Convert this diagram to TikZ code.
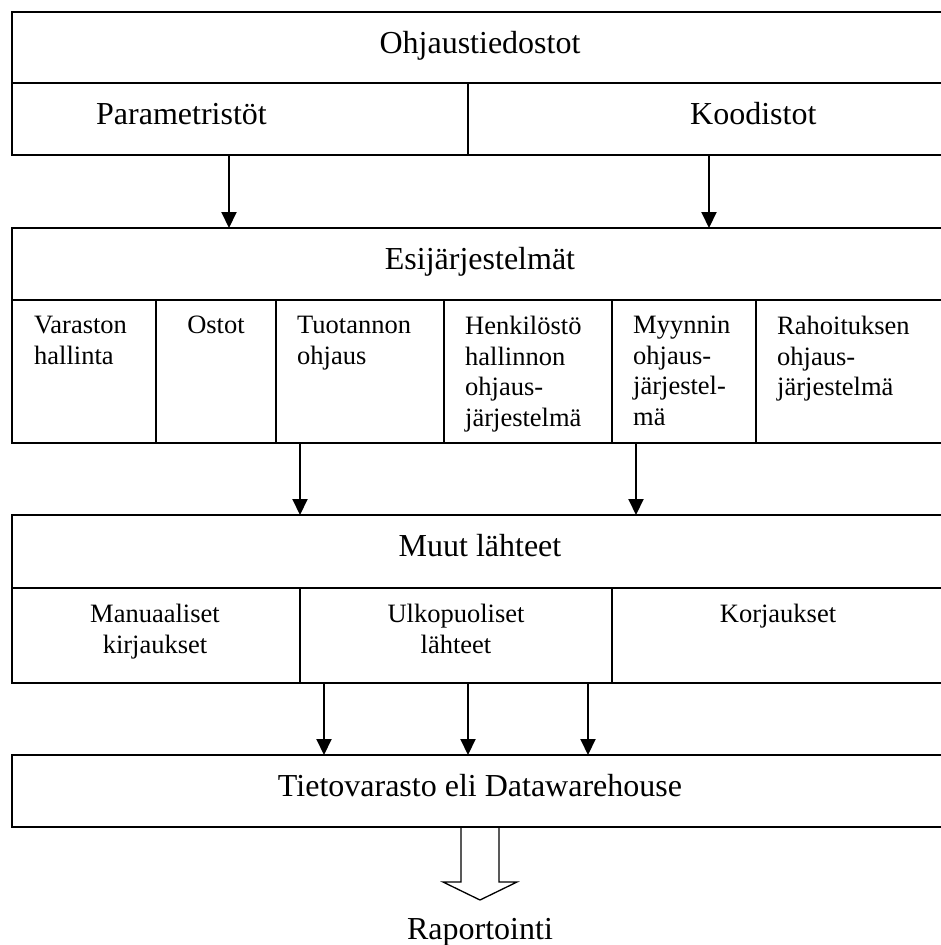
\documentclass[tikz,border=0pt]{standalone}
\usepackage{fontspec}
\setmainfont{Liberation Serif}
\usetikzlibrary{arrows.meta}

\begin{document}
\begin{tikzpicture}[x=1pt,y=-1pt,
  frame/.style={draw=black, line width=2pt},
  divider/.style={draw=black, line width=1.5pt},
  flow/.style={draw=black, line width=2pt, -{Triangle[length=16pt,width=15pt]}},
  bigtxt/.style={inner sep=0pt, font=\fontsize{32}{38}\selectfont},
  smalltxt/.style={inner sep=0pt, font=\fontsize{26.5}{30.5}\selectfont}]
\useasboundingbox (0,0) rectangle (941,945);
\clip (0,0) rectangle (941,945);

% ---- control files ----
\coordinate (ctrlNW) at (12,12);
\coordinate (ctrlSE) at (956,155);
\draw[frame] (ctrlNW) rectangle (ctrlSE);
\coordinate (ctrlSep) at (12,83);
\draw[frame] (ctrlSep) -- (ctrlSep -| ctrlSE);
\coordinate (ctrlDiv) at (468,83);
\draw[divider] (ctrlDiv) -- (ctrlDiv |- ctrlSE);
\node[bigtxt, anchor=base] (ctrl) at (480,53) {Ohjaustiedostot};
\node[bigtxt, anchor=base west] (param) at (96,124) {Parametristöt};
\node[bigtxt, anchor=base west] (codes) at (690,124) {Koodistot};

% ---- source systems ----
\coordinate (srcNW) at (12,228);
\coordinate (srcSE) at (956,443);
\draw[frame] (srcNW) rectangle (srcSE);
\coordinate (srcSep) at (12,300);
\draw[frame] (srcSep) -- (srcSep -| srcSE);
\foreach \x in {156,276,444,612,756}
  \draw[divider] (\x,300) -- (\x,443);
\node[bigtxt, anchor=base] (src) at (480,269) {Esijärjestelmät};
\node[smalltxt, anchor=north west, align=left] (stock) at (34,316) {Varaston\\hallinta};
\node[smalltxt, anchor=north, align=center] (buy) at (216,316) {Ostot};
\node[smalltxt, anchor=north west, align=left] (prod) at (297,316) {Tuotannon\\ohjaus};
\node[smalltxt, anchor=north west, align=left] (hr) at (465,316) {Henkilöstö\\hallinnon\\ohjaus-\\järjestelmä};
\node[smalltxt, anchor=north west, align=left] (sales) at (633,316) {Myynnin\\ohjaus-\\järjestel-\\mä};
\node[smalltxt, anchor=north west, align=left] (fin) at (777,316) {Rahoituksen\\ohjaus-\\järjestelmä};

% ---- other sources ----
\coordinate (othNW) at (12,515);
\coordinate (othSE) at (956,683);
\draw[frame] (othNW) rectangle (othSE);
\coordinate (othSep) at (12,588);
\draw[frame] (othSep) -- (othSep -| othSE);
\foreach \x in {300,612}
  \draw[divider] (\x,588) -- (\x,683);
\node[bigtxt, anchor=base] (oth) at (480,556) {Muut lähteet};
\node[smalltxt, anchor=north, align=center] (manual) at (155,604) {Manuaaliset\\kirjaukset};
\node[smalltxt, anchor=north, align=center] (ext) at (456,604) {Ulkopuoliset\\lähteet};
\node[smalltxt, anchor=north, align=center] (fix) at (778,604) {Korjaukset};

% ---- data warehouse ----
\coordinate (dwNW) at (12,755);
\coordinate (dwSE) at (956,827);
\draw[frame] (dwNW) rectangle (dwSE);
\node[bigtxt, anchor=base] (dw) at (480,796) {Tietovarasto eli Datawarehouse};

\node[bigtxt, anchor=base] (rep) at (480,939) {Raportointi};

% ---- connectors ----
\coordinate (a1) at (229,155);
\coordinate (a2) at (709,155);
\draw[flow] (a1) -- (a1 |- srcNW);
\draw[flow] (a2) -- (a2 |- srcNW);

\coordinate (b1) at (300,443);
\coordinate (b2) at (636,443);
\draw[flow] (b1) -- (b1 |- othNW);
\draw[flow] (b2) -- (b2 |- othNW);

\coordinate (c1) at (324,683);
\coordinate (c2) at (468,683);
\coordinate (c3) at (588,683);
\draw[flow] (c1) -- (c1 |- dwNW);
\draw[flow] (c2) -- (c2 |- dwNW);
\draw[flow] (c3) -- (c3 |- dwNW);

% hollow block arrow towards reporting
\coordinate (h0) at (480,827);
\draw[line width=1.3pt, line join=miter]
  ([xshift=-19pt]h0) -- ++(0,55) -- ++(-18,0) -- (480,900) -- (517,882)
  -- ++(-18,0) -- ([xshift=19pt]h0);
\end{tikzpicture}
\end{document}
